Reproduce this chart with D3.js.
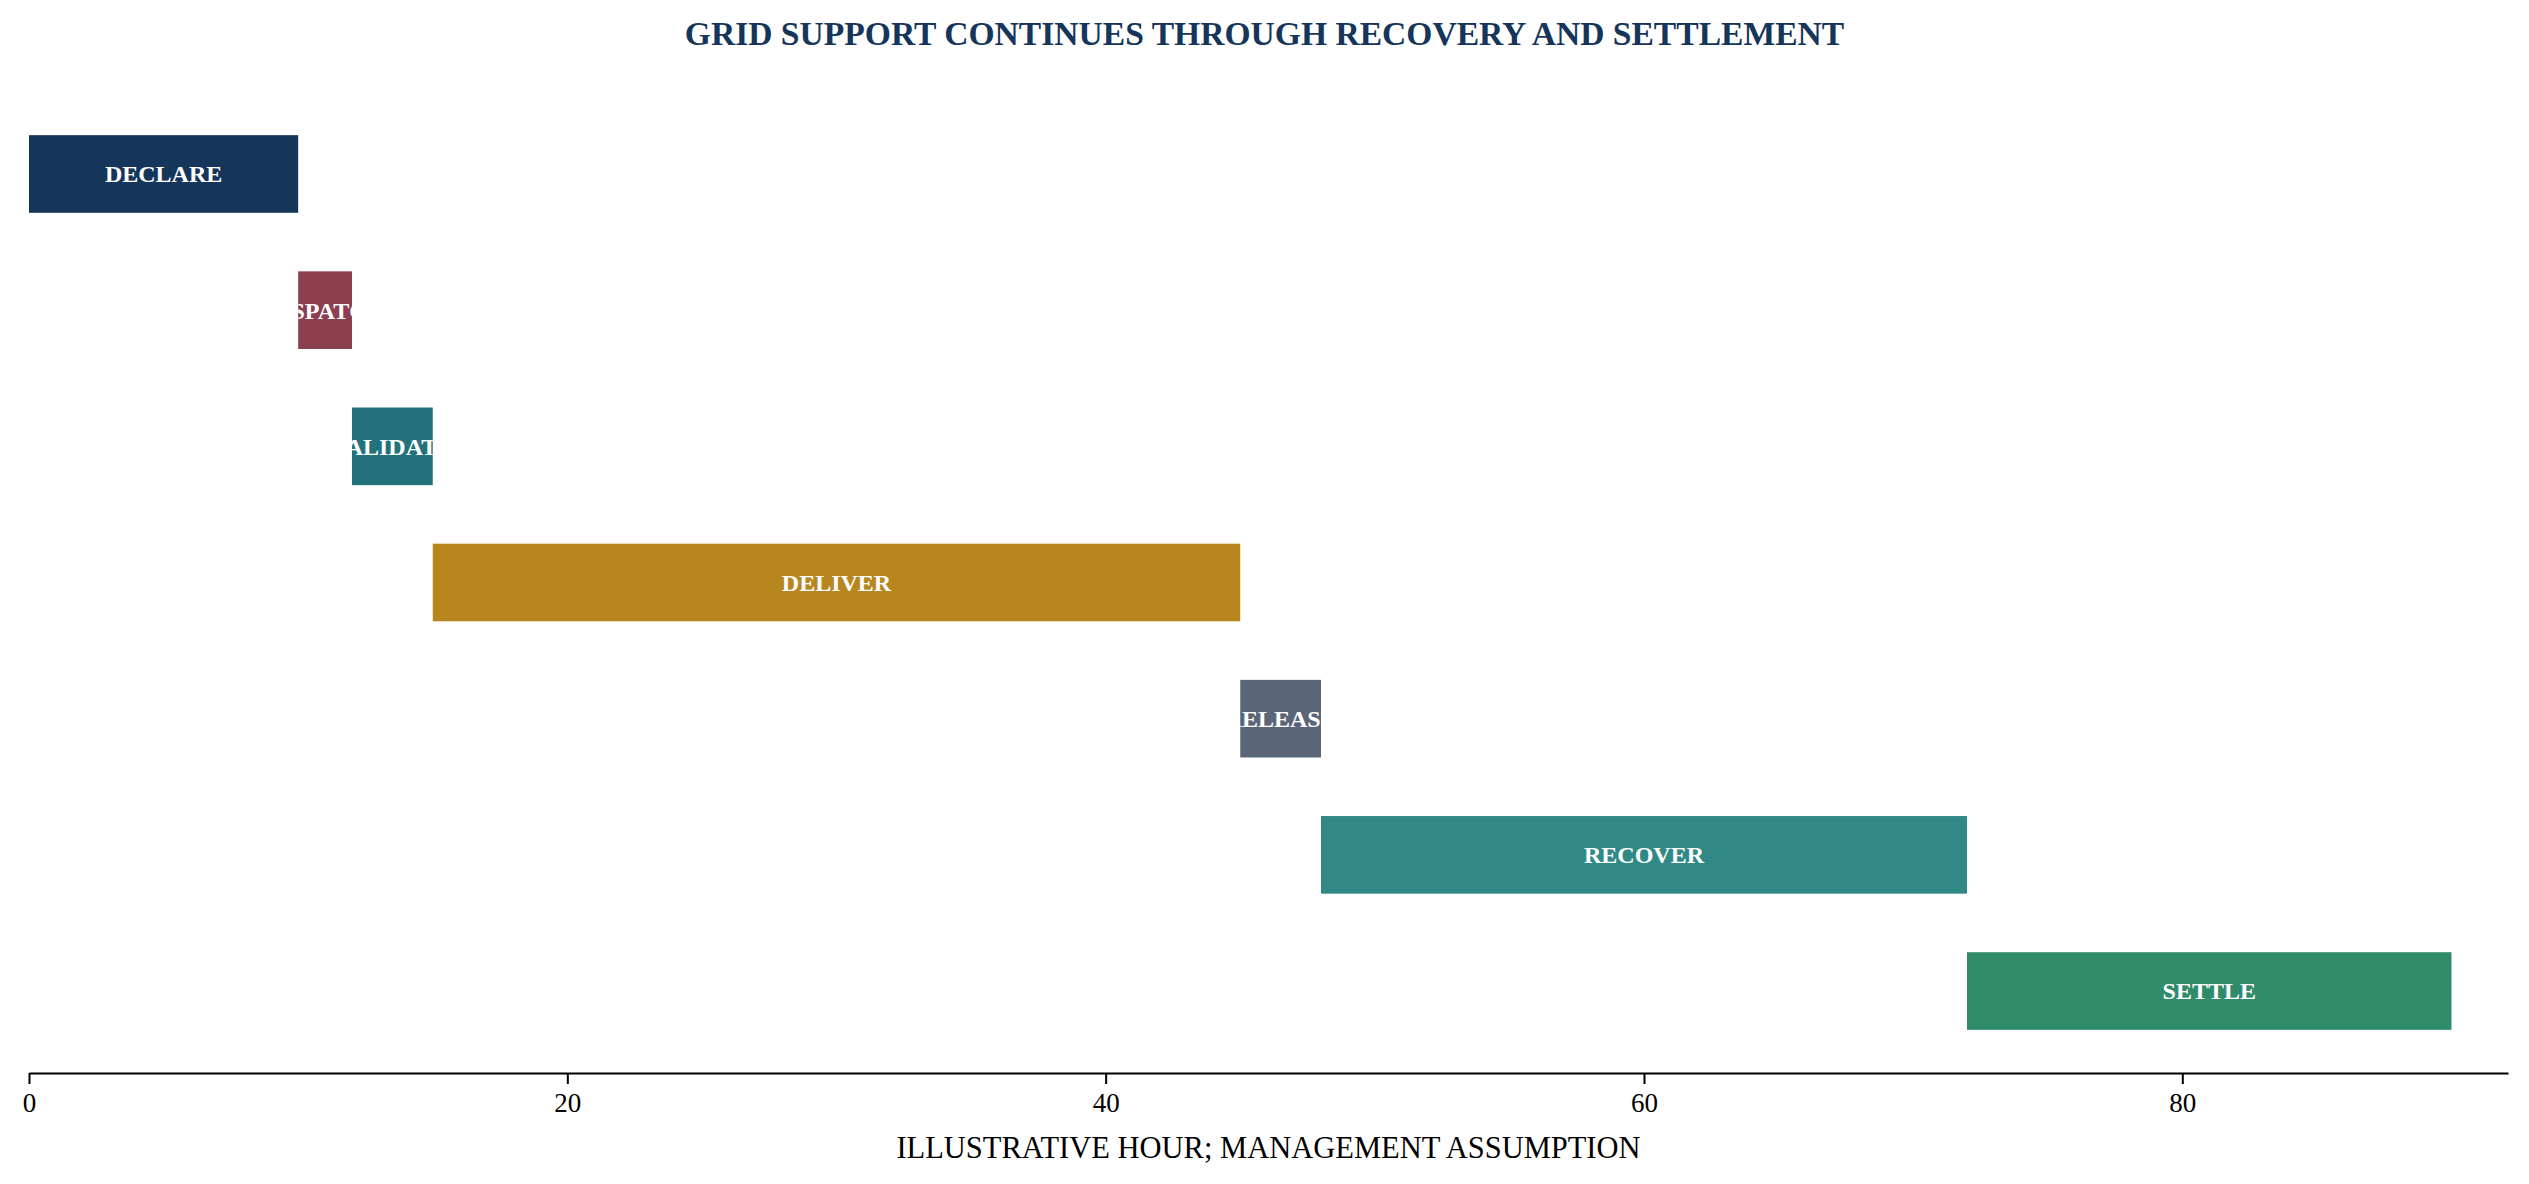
<!DOCTYPE html>
<html>
<head>
<meta charset="utf-8">
<script src="https://cdn.jsdelivr.net/npm/d3@7"></script>
<style>
  html, body { margin: 0; padding: 0; background: #fff; }
  svg { display: block; }
</style>
</head>
<body>
<div id="chart"></div>
<script>
// ── Data ───────────────────────────────────────────────
const phases = ['DECLARE', 'DISPATCH', 'VALIDATE', 'DELIVER', 'RELEASE', 'RECOVER', 'SETTLE'];
const starts = [0, 10, 12, 15, 45, 48, 72];
const ends   = [10, 12, 15, 45, 48, 72, 90];
const phaseColors = ['#15355a', '#8b3f4e', '#23717b', '#b8861f', '#5a6577', '#308986', '#2f8b69'];
const xTicks = [0, 20, 40, 60, 80];

const titleText  = 'GRID SUPPORT CONTINUES THROUGH RECOVERY AND SETTLEMENT';
const xLabelText = 'ILLUSTRATIVE HOUR; MANAGEMENT ASSUMPTION';

// ── Layout ─────────────────────────────────────────────
const W = 2529, H = 1184;
const margin = { top: 92, right: 21, bottom: 111, left: 29 };
const innerW = W - margin.left - margin.right;
const innerH = H - margin.top - margin.bottom;
const serif = "'Liberation Serif', 'Times New Roman', Times, serif";

const rows = phases.map((p, i) => ({
  phase: p, start: starts[i], end: ends[i], color: phaseColors[i]
}));

const svg = d3.select('#chart').append('svg')
  .attr('width', W).attr('height', H);

const g = svg.append('g').attr('transform', `translate(${margin.left},${margin.top})`);

const x = d3.scaleLinear().domain([0, 92.1]).range([0, innerW]);
const y = d3.scaleBand().domain(phases).range([0, innerH])
  .paddingInner(0.43).paddingOuter(0.317);

// Clip paths so labels get cut at bar edges
const defs = svg.append('defs');
rows.forEach((d, i) => {
  defs.append('clipPath').attr('id', `clip-${i}`)
    .append('rect')
    .attr('x', x(d.start)).attr('y', y(d.phase))
    .attr('width', x(d.end) - x(d.start)).attr('height', y.bandwidth());
});

// Bars
g.selectAll('.bar')
  .data(rows)
  .enter().append('rect')
  .attr('class', 'bar')
  .attr('x', d => x(d.start))
  .attr('y', d => y(d.phase))
  .attr('width', d => x(d.end) - x(d.start))
  .attr('height', y.bandwidth())
  .attr('fill', d => d.color);

// Bar labels
g.selectAll('.bar-label')
  .data(rows)
  .enter().append('text')
  .attr('class', 'bar-label')
  .attr('clip-path', (d, i) => `url(#clip-${i})`)
  .attr('x', d => x((d.start + d.end) / 2))
  .attr('y', d => y(d.phase) + y.bandwidth() / 2)
  .attr('dy', '0.35em')
  .attr('text-anchor', 'middle')
  .attr('fill', '#ffffff')
  .attr('font-family', serif)
  .attr('font-weight', 'bold')
  .attr('font-size', '24px')
  .text(d => d.phase);

// X axis
const xAxisG = g.append('g').attr('transform', `translate(0,${innerH})`)
  .call(d3.axisBottom(x).tickValues(xTicks).tickSize(11).tickPadding(9).tickSizeOuter(0));
xAxisG.select('.domain').attr('stroke', '#000').attr('stroke-width', 2);
xAxisG.selectAll('.tick line').attr('stroke', '#000').attr('stroke-width', 2);
xAxisG.selectAll('.tick text')
  .attr('fill', '#000')
  .attr('font-family', serif)
  .attr('font-size', '27px');

// Axis label
svg.append('text')
  .attr('x', margin.left + innerW / 2)
  .attr('y', 1158)
  .attr('text-anchor', 'middle')
  .attr('fill', '#000')
  .attr('font-family', serif)
  .attr('font-size', '30.5px')
  .text(xLabelText);

// Title
svg.append('text')
  .attr('x', W / 2)
  .attr('y', 45)
  .attr('text-anchor', 'middle')
  .attr('fill', '#15355a')
  .attr('font-family', serif)
  .attr('font-weight', 'bold')
  .attr('font-size', '33.6px')
  .text(titleText);
</script>
</body>
</html>
